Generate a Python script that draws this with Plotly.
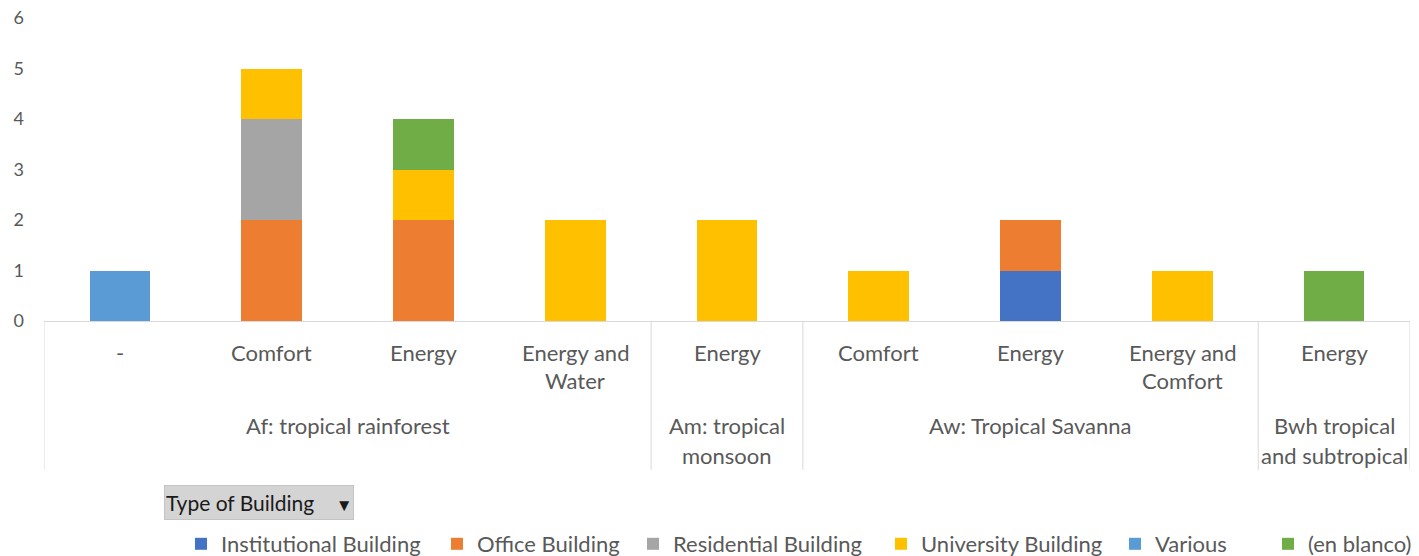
import plotly.graph_objects as go

# ---- data ----
sub_labels = ["-", "Comfort", "Energy", "Energy and\nWater", "Energy",
              "Comfort", "Energy", "Energy and\nComfort", "Energy"]
groups = ["Af: tropical rainforest", "Am: tropical\nmonsoon",
          "Aw: Tropical Savanna", "Bwh tropical\nand subtropical"]
group_sizes = [4, 1, 3, 1]

series_names = ["Institutional Building", "Office Building", "Residential Building",
                "University Building", "Various", "(en blanco)"]
institutional = [0, 0, 0, 0, 0, 0, 1, 0, 0]
office        = [0, 2, 2, 0, 0, 0, 1, 0, 0]
residential   = [0, 2, 0, 0, 0, 0, 0, 0, 0]
university    = [0, 1, 1, 2, 2, 1, 0, 1, 0]
various       = [1, 0, 0, 0, 0, 0, 0, 0, 0]
en_blanco     = [0, 0, 1, 0, 0, 0, 0, 0, 1]
series_values = [institutional, office, residential, university, various, en_blanco]
colors = ["#4472C4", "#ED7D31", "#A5A5A5", "#FFC000", "#5B9BD5", "#70AD47"]

FONT = "Lato"
TXT = "#595959"
LINE = "#D9D9D9"
FS = 22

W, H = 1419, 556
ml, mr, mt, mb = 44, 9, 18, 235
plot_h = H - mt - mb
plot_w = W - ml - mr

# legend entry left positions (pixels)
legend_px = [197, 453, 649, 897, 1131, 1284]

n = len(sub_labels)
xs = list(range(n))

fig = go.Figure()
legend_layout = {}
for k, (name, vals, col) in enumerate(zip(series_names, series_values, colors)):
    lname = "legend" if k == 0 else f"legend{k + 1}"
    fig.add_trace(go.Bar(
        x=xs, y=[v if v else None for v in vals], name=name,
        marker=dict(color=col, line=dict(width=0)), width=0.4,
        legend=lname,
    ))
    legend_layout[lname] = dict(
        orientation="h", x=(legend_px[k] - 16 - ml) / plot_w, xanchor="left",
        y=-(544 - (H - mb)) / plot_h, yanchor="middle",
        font=dict(size=FS, color=TXT, family=FONT),
        itemwidth=30, bgcolor="rgba(0,0,0,0)",
    )

fig.update_layout(
    width=W, height=H, barmode="stack",
    margin=dict(l=ml, r=mr, t=mt, b=mb, autoexpand=False),
    paper_bgcolor="white", plot_bgcolor="white",
    font=dict(family=FONT, color=TXT, size=FS),
    xaxis=dict(range=[-0.5, n - 0.5], showticklabels=False, showgrid=False,
               zeroline=False, showline=True, linecolor=LINE, linewidth=1,
               ticks="", automargin=False),
    yaxis=dict(range=[0, 6], dtick=1, showgrid=False, zeroline=False,
               showline=False, ticks="", ticklabelstandoff=19, automargin=False,
               tickfont=dict(size=18, color=TXT, family=FONT)),
    showlegend=True,
    **legend_layout,
)

# category labels
for i, lab in enumerate(sub_labels):
    for j, line in enumerate(lab.split("\n")):
        fig.add_annotation(x=i, xref="x", y=0, yref="paper", yshift=-(31 + 28 * j),
                           text=line, showarrow=False, yanchor="middle",
                           font=dict(size=FS, color=TXT, family=FONT))

# group labels and separators
start = 0
bounds = [-0.5]
for g, size in zip(groups, group_sizes):
    center = start + (size - 1) / 2
    for j, line in enumerate(g.split("\n")):
        fig.add_annotation(x=center, xref="x", y=0, yref="paper", yshift=-(104 + 30 * j),
                           text=line, showarrow=False, yanchor="middle",
                           font=dict(size=FS, color=TXT, family=FONT))
    start += size
    bounds.append(start - 0.5)

sep_depth = (470 - (H - mb)) / plot_h
for b in bounds:
    fig.add_shape(type="line", xref="x", yref="paper", x0=b, x1=b, y0=0, y1=-sep_depth,
                  line=dict(color=LINE, width=1))

# pivot field button
fig.add_annotation(xref="paper", x=(164 - ml) / plot_w, xanchor="left",
                   yref="paper", y=0, yshift=-(502.5 - (H - mb)), yanchor="middle",
                   text="Type of Building    <span style='font-size:17px'>▼</span>",
                   showarrow=False, align="left",
                   width=186, height=31, bgcolor="#D4D4D4", bordercolor="#C4C4C4",
                   borderwidth=1, borderpad=1,
                   font=dict(size=FS - 1, color="#1A1A1A", family=FONT))

fig.write_html("out.html", config={"displayModeBar": False},
               post_script="document.body.style.margin='0';document.body.style.overflow='hidden';")
